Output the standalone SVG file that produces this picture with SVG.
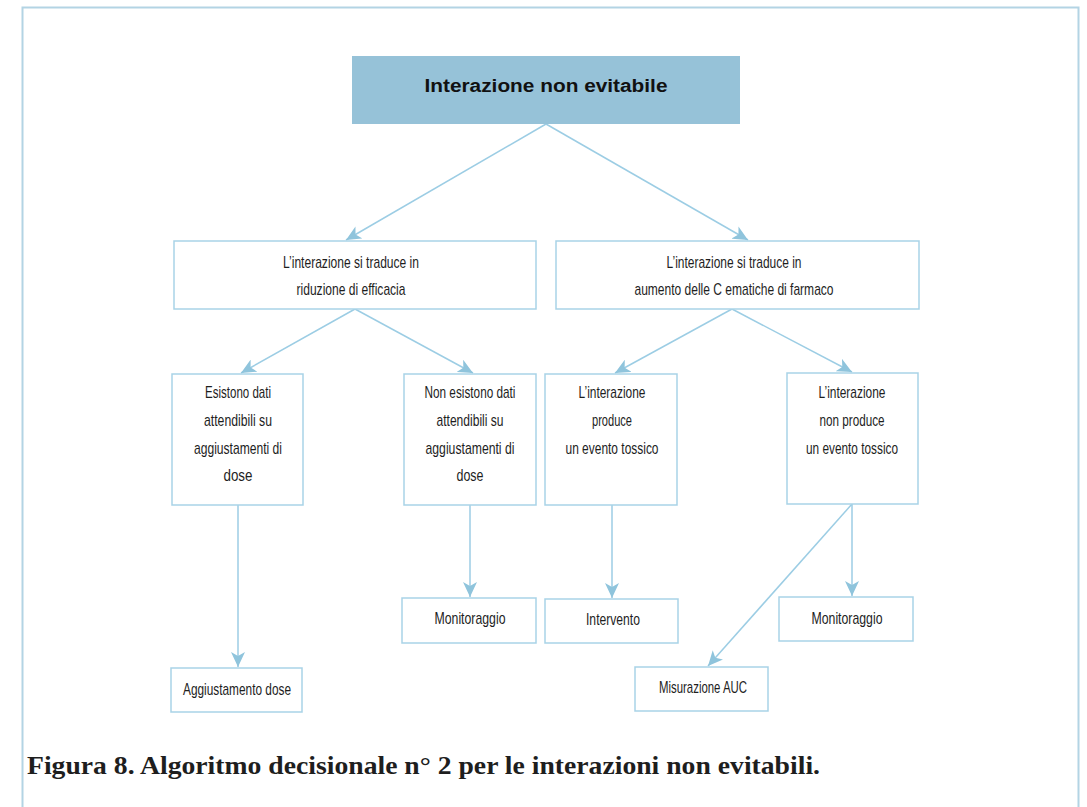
<svg xmlns="http://www.w3.org/2000/svg" width="1087" height="807" viewBox="0 0 1087 807">
<style>
.box{fill:#fff;stroke:#a9d3e7;stroke-width:1.5}
.t{font-family:"Liberation Sans",Arial,sans-serif;font-size:17px;fill:#1e1e1e;text-anchor:middle}
.c{stroke:#9ccde4;stroke-width:1.5;fill:none;marker-end:url(#ah)}
</style>
<defs>
<marker id="ah" markerUnits="userSpaceOnUse" markerWidth="16" markerHeight="14" viewBox="0 0 16 14" refX="15" refY="7" orient="auto">
<path d="M0,0 L15,7 L0,14 L4,7 z" fill="#8fc4dc"/>
</marker>
</defs>
<rect width="1087" height="807" fill="#fff"/>
<path d="M22.5,810 V7.5 H1078.5 V810" fill="none" stroke="#b3d4e4" stroke-width="2"/>

<g id="connectors">
<line class="c" x1="546" y1="124" x2="346" y2="240"/>
<line class="c" x1="546" y1="124" x2="748" y2="240"/>
<line class="c" x1="355" y1="309" x2="241" y2="373"/>
<line class="c" x1="355" y1="309" x2="473" y2="373"/>
<line class="c" x1="732" y1="309" x2="615" y2="373"/>
<line class="c" x1="732" y1="309" x2="852" y2="372"/>
<line class="c" x1="238" y1="505" x2="238" y2="667"/>
<line class="c" x1="470" y1="505" x2="470" y2="597"/>
<line class="c" x1="612" y1="505" x2="612" y2="598"/>
<line class="c" x1="852" y1="504" x2="852" y2="596"/>
<line class="c" x1="852" y1="504" x2="708" y2="666"/>
</g>

<g id="n-top">
<rect x="352" y="56" width="388" height="68" fill="#96c2d8"/>
<text x="546" y="92" style="font-family:'Liberation Sans',Arial,sans-serif;font-size:17.5px;font-weight:bold;fill:#111;text-anchor:middle" textLength="243" lengthAdjust="spacingAndGlyphs">Interazione non evitabile</text>
</g>

<g id="n-l1">
<rect class="box" x="174" y="241" width="362" height="68"/>
<text class="t" x="351" y="268" textLength="136" lengthAdjust="spacingAndGlyphs">L’interazione si traduce in</text>
<text class="t" x="351" y="295" textLength="109" lengthAdjust="spacingAndGlyphs">riduzione di efficacia</text>
</g>

<g id="n-r1">
<rect class="box" x="556" y="241" width="363" height="68"/>
<text class="t" x="734" y="268" textLength="135" lengthAdjust="spacingAndGlyphs">L’interazione si traduce in</text>
<text class="t" x="734" y="295" textLength="199" lengthAdjust="spacingAndGlyphs">aumento delle C ematiche di farmaco</text>
</g>

<g id="n-a">
<rect class="box" x="172" y="374" width="131" height="131"/>
<text class="t" x="238" y="398" textLength="66" lengthAdjust="spacingAndGlyphs">Esistono dati</text>
<text class="t" x="238" y="426" textLength="68" lengthAdjust="spacingAndGlyphs">attendibili su</text>
<text class="t" x="238" y="454" textLength="88" lengthAdjust="spacingAndGlyphs">aggiustamenti di</text>
<text class="t" x="238" y="481" textLength="29" lengthAdjust="spacingAndGlyphs">dose</text>
</g>

<g id="n-b">
<rect class="box" x="404" y="374" width="132" height="131"/>
<text class="t" x="470" y="398" textLength="91" lengthAdjust="spacingAndGlyphs">Non esistono dati</text>
<text class="t" x="470" y="426" textLength="67" lengthAdjust="spacingAndGlyphs">attendibili su</text>
<text class="t" x="470" y="454" textLength="89" lengthAdjust="spacingAndGlyphs">aggiustamenti di</text>
<text class="t" x="470" y="481" textLength="27" lengthAdjust="spacingAndGlyphs">dose</text>
</g>

<g id="n-c">
<rect class="box" x="545" y="374" width="132" height="131"/>
<text class="t" x="612" y="398" textLength="67" lengthAdjust="spacingAndGlyphs">L’interazione</text>
<text class="t" x="612" y="426" textLength="40" lengthAdjust="spacingAndGlyphs">produce</text>
<text class="t" x="612" y="454" textLength="93" lengthAdjust="spacingAndGlyphs">un evento tossico</text>
</g>

<g id="n-d">
<rect class="box" x="787" y="373" width="131" height="131"/>
<text class="t" x="852" y="398" textLength="67" lengthAdjust="spacingAndGlyphs">L’interazione</text>
<text class="t" x="852" y="426" textLength="65" lengthAdjust="spacingAndGlyphs">non produce</text>
<text class="t" x="852" y="454" textLength="92" lengthAdjust="spacingAndGlyphs">un evento tossico</text>
</g>

<g id="n-mon1">
<rect class="box" x="402" y="598" width="134" height="45"/>
<text class="t" x="470" y="624" textLength="71" lengthAdjust="spacingAndGlyphs">Monitoraggio</text>
</g>

<g id="n-int">
<rect class="box" x="545" y="599" width="133" height="44"/>
<text class="t" x="613" y="625" textLength="54" lengthAdjust="spacingAndGlyphs">Intervento</text>
</g>

<g id="n-mon2">
<rect class="box" x="779" y="597" width="134" height="44"/>
<text class="t" x="847" y="624" textLength="71" lengthAdjust="spacingAndGlyphs">Monitoraggio</text>
</g>

<g id="n-agg">
<rect class="box" x="171" y="668" width="131" height="44"/>
<text class="t" x="237" y="695" textLength="108" lengthAdjust="spacingAndGlyphs">Aggiustamento dose</text>
</g>

<g id="n-auc">
<rect class="box" x="635" y="667" width="133" height="44"/>
<text class="t" x="703" y="693" textLength="88" lengthAdjust="spacingAndGlyphs">Misurazione AUC</text>
</g>

<text x="27" y="774" style="font-family:'Liberation Serif','Times New Roman',serif;font-size:25px;font-weight:bold;fill:#1e1e1e" textLength="793" lengthAdjust="spacingAndGlyphs">Figura 8. Algoritmo decisionale n° 2 per le interazioni non evitabili.</text>
</svg>
